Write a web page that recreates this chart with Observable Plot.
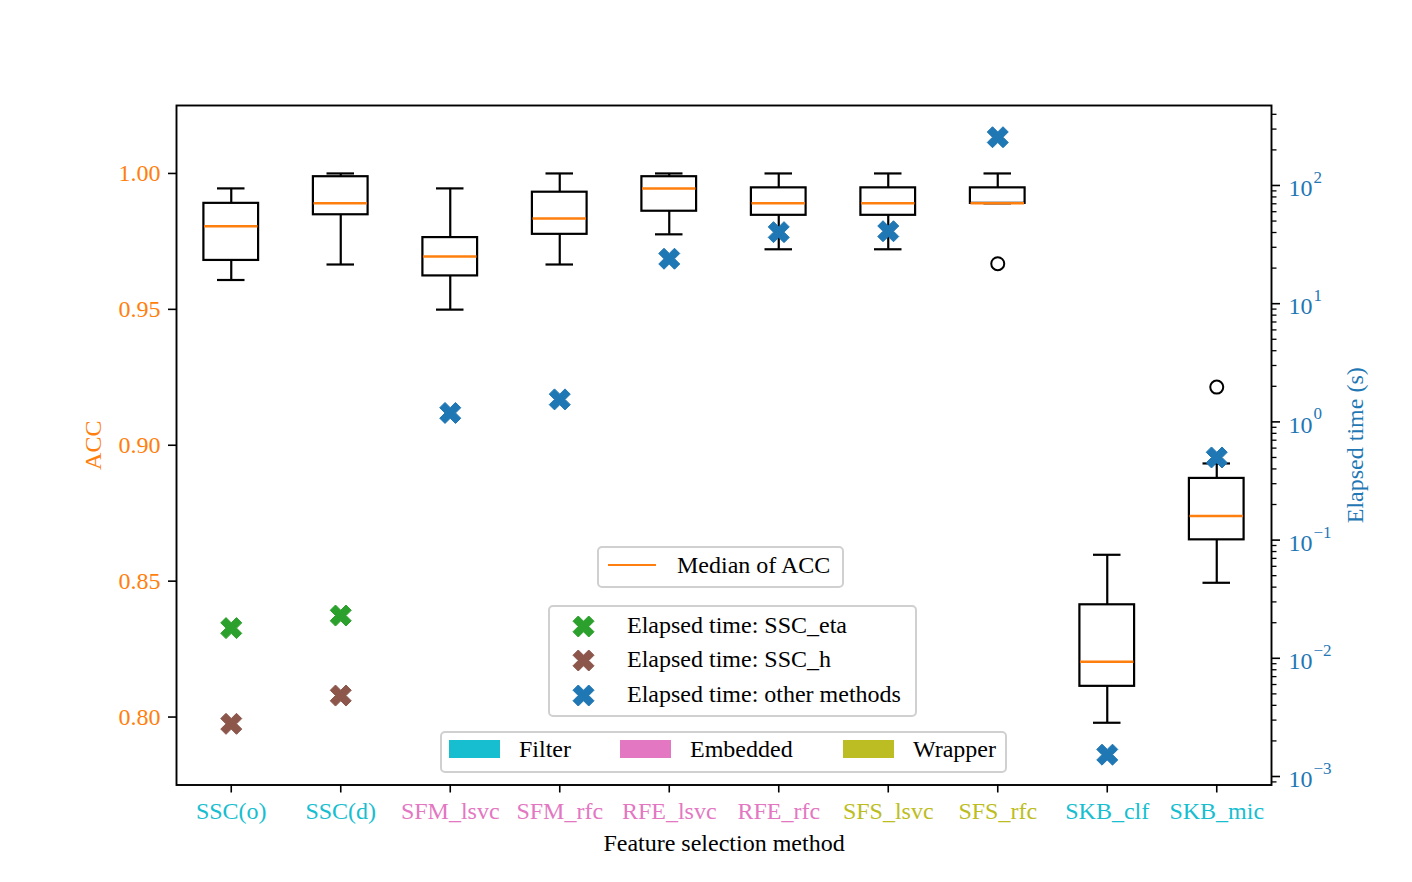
<!DOCTYPE html>
<html>
<head>
<meta charset="utf-8">
<script src="https://cdn.jsdelivr.net/npm/d3@7"></script>
<script src="https://cdn.jsdelivr.net/npm/@observablehq/plot@0.6"></script>
<style>
  html, body { margin: 0; padding: 0; background: #fff; }
  #wrap { position: relative; width: 1412px; height: 882px; font-family: "Liberation Serif", "DejaVu Serif", serif; }
  .leg { position: absolute; box-sizing: border-box; border: 2px solid #d0d0d0; border-radius: 5px; background: rgba(255,255,255,0.8); }
  .lt { position: absolute; font-size: 24px; line-height: 24px; color: #000; white-space: nowrap; transform: translateY(-50%); }
  .lsw { position: absolute; }
</style>
</head>
<body>
<div id="wrap"></div>
<script>
// ---------- data ----------
const methods = ["SSC(o)", "SSC(d)", "SFM_lsvc", "SFM_rfc", "RFE_lsvc", "RFE_rfc", "SFS_lsvc", "SFS_rfc", "SKB_clf", "SKB_mic"];
const groups  = ["Filter", "Filter", "Embedded", "Embedded", "Embedded", "Embedded", "Wrapper", "Wrapper", "Filter", "Filter"];

const accMin    = [0.9608, 0.9665, 0.9499, 0.9665, 0.9776, 0.9721, 0.9721, 0.9890, 0.7979, 0.8494];
const accQ1     = [0.9680, 0.9848, 0.9623, 0.9776, 0.9861, 0.9846, 0.9846, 0.9890, 0.8113, 0.8652];
const accMedian = [0.9806, 0.9890, 0.9694, 0.9834, 0.9945, 0.9890, 0.9890, 0.9890, 0.8203, 0.8740];
const accQ3     = [0.9890, 0.9988, 0.9764, 0.9931, 0.9988, 0.9947, 0.9947, 0.9947, 0.8413, 0.8878];
const accMax    = [0.9945, 1.0000, 0.9945, 1.0000, 1.0000, 1.0000, 1.0000, 1.0000, 0.8597, 0.8933];

const outlierMethods = ["SFS_rfc", "SKB_mic"];
const outlierAcc     = [0.9668, 0.9214];

const sscMethods = ["SSC(o)", "SSC(d)"];
const timeSscEta = [0.0180, 0.0230];
const timeSscH   = [0.00279, 0.00484];

const otherMethods = ["SFM_lsvc", "SFM_rfc", "RFE_lsvc", "RFE_rfc", "SFS_lsvc", "SFS_rfc", "SKB_clf", "SKB_mic"];
const timeOther    = [1.19, 1.55, 24.0, 40.3, 41.0, 256, 0.00153, 0.50];

const accTicks = [0.80, 0.85, 0.90, 0.95, 1.00];
const timeDecades = [-3, -2, -1, 0, 1, 2];
const groupNames = ["Filter", "Embedded", "Wrapper"];

// ---------- styling ----------
const groupColor = {Filter: "#17becf", Embedded: "#e377c2", Wrapper: "#bcbd22"};
const orange = "#ff7f0e", blue = "#1f77b4", green = "#2ca02c", brown = "#8c564b";
const accDomain = [0.775, 1.025];
const logDomain = [-3.0719, 2.6766];   // right (log10 seconds) axis limits

// map elapsed time onto the ACC scale (twin axis)
const logToAcc = d3.scaleLinear().domain(logDomain).range(accDomain);
const tY = t => logToAcc(Math.log10(t));

// matplotlib-like filled "X" marker
const xSymbol = {
  draw(ctx, size) {
    const s = 2 * Math.sqrt(size / Math.PI);
    const pts = [[-0.25,-0.5],[0,-0.25],[0.25,-0.5],[0.5,-0.25],[0.25,0],[0.5,0.25],
                 [0.25,0.5],[0,0.25],[-0.25,0.5],[-0.5,0.25],[-0.25,0],[-0.5,-0.25]];
    pts.forEach(([x, y], i) => i ? ctx.lineTo(x * s, y * s) : ctx.moveTo(x * s, y * s));
    ctx.closePath();
  }
};

const boxes = methods.map((m, i) => ({method: m, group: groups[i], min: accMin[i], q1: accQ1[i], med: accMedian[i], q3: accQ3[i], max: accMax[i]}));
const outliers = outlierMethods.map((m, i) => ({method: m, acc: outlierAcc[i]}));
const etaPts = sscMethods.map((m, i) => ({method: m, t: timeSscEta[i]}));
const hPts = sscMethods.map((m, i) => ({method: m, t: timeSscH[i]}));
const otherPts = otherMethods.map((m, i) => ({method: m, t: timeOther[i]}));

const minorTicks = [];
for (let k = -4; k <= 2; k++) for (let j = 2; j <= 9; j++) {
  const v = j * 10 ** k, l = Math.log10(v);
  if (l > logDomain[0] && l < logDomain[1]) minorTicks.push(tY(v));
}

const lw = 2.2;
const chart = Plot.plot({
  width: 1412, height: 882,
  marginTop: 105, marginBottom: 97.5, marginLeft: 176, marginRight: 141,
  style: {fontFamily: "Liberation Serif", fontSize: "24px", background: "white"},
  x: {domain: methods, padding: 0, round: false, axis: null},
  y: {domain: accDomain, axis: null},
  marks: [
    // left axis ticks and labels
    Plot.axisY({anchor: "left", ticks: accTicks, tickSize: 8, tickFormat: () => "", label: null, strokeWidth: 1.6}),
    Plot.text(accTicks, {y: d => d, text: d => d.toFixed(2), frameAnchor: "left", dx: -16, textAnchor: "end", lineAnchor: "middle", fill: orange}),
    Plot.text(["ACC"], {frameAnchor: "left", dx: -83, rotate: -90, textAnchor: "middle", lineAnchor: "middle", fill: orange}),
    // right (log) axis
    Plot.axisY({anchor: "right", ticks: timeDecades.map(d => tY(10 ** d)), tickSize: 8, tickFormat: () => "", label: null, strokeWidth: 1.6}),
    Plot.axisY({anchor: "right", ticks: minorTicks, tickSize: 4.5, tickFormat: () => "", label: null, strokeWidth: 1.3}),
    Plot.text(timeDecades, {y: d => tY(10 ** d), text: () => "10", frameAnchor: "right", dx: 17, dy: 3, textAnchor: "start", lineAnchor: "middle", fill: blue}),
    Plot.text(timeDecades, {y: d => tY(10 ** d), text: d => d < 0 ? "\u2212" + (-d) : String(d), frameAnchor: "right", dx: 42, dy: -8, textAnchor: "start", lineAnchor: "middle", fill: blue, fontSize: 17}),
    Plot.text(["Elapsed time (s)"], {frameAnchor: "right", dx: 84, rotate: -90, textAnchor: "middle", lineAnchor: "middle", fill: blue}),
    // x axis
    Plot.axisX({ticks: methods, tickSize: 8, tickFormat: () => "", label: null, strokeWidth: 1.6}),
    ...groupNames.map(g => Plot.text(methods.filter((m, i) => groups[i] === g), {x: d => d, frameAnchor: "bottom", dy: 26, textAnchor: "middle", lineAnchor: "middle", fill: groupColor[g]})),
    Plot.text(["Feature selection method"], {frameAnchor: "bottom", dy: 58, textAnchor: "middle", lineAnchor: "middle", fill: "black"}),
    // box plots of ACC
    Plot.ruleX(boxes, {x: "method", y1: "q3", y2: "max", stroke: "black", strokeWidth: lw}),
    Plot.ruleX(boxes, {x: "method", y1: "min", y2: "q1", stroke: "black", strokeWidth: lw}),
    Plot.tickY(boxes, {x: "method", y: "max", insetLeft: 41, insetRight: 41, stroke: "black", strokeWidth: lw}),
    Plot.tickY(boxes, {x: "method", y: "min", insetLeft: 41, insetRight: 41, stroke: "black", strokeWidth: lw}),
    Plot.barY(boxes, {x: "method", y1: "q1", y2: "q3", insetLeft: 27.4, insetRight: 27.4, fill: "white", stroke: "black", strokeWidth: lw}),
    Plot.tickY(boxes, {x: "method", y: "med", insetLeft: 28, insetRight: 28, stroke: orange, strokeWidth: 2.5}),
    Plot.dot(outliers, {x: "method", y: "acc", r: 6.5, stroke: "black", strokeWidth: 2, fill: "none"}),
    // elapsed time markers
    Plot.dot(etaPts, {x: "method", y: d => tY(d.t), symbol: xSymbol, r: 10.5, fill: green, stroke: green, strokeWidth: 1}),
    Plot.dot(hPts, {x: "method", y: d => tY(d.t), symbol: xSymbol, r: 10.5, fill: brown, stroke: brown, strokeWidth: 1}),
    Plot.dot(otherPts, {x: "method", y: d => tY(d.t), symbol: xSymbol, r: 10.5, fill: blue, stroke: blue, strokeWidth: 1}),
    Plot.frame({stroke: "black", strokeWidth: 1.9})
  ]
});

const wrap = document.getElementById("wrap");
chart.style.position = "absolute";
chart.style.left = "0px";
chart.style.top = "0px";
wrap.appendChild(chart);

// ---------- legends (overlaid) ----------
function el(tag, cls, css, html) {
  const e = document.createElement(tag);
  if (cls) e.className = cls;
  Object.assign(e.style, css);
  if (html != null) e.innerHTML = html;
  wrap.appendChild(e);
  return e;
}
function xMarkerSvg(color) {
  const s = 21, h = s / 2;
  const pts = [[-0.25,-0.5],[0,-0.25],[0.25,-0.5],[0.5,-0.25],[0.25,0],[0.5,0.25],
               [0.25,0.5],[0,0.25],[-0.25,0.5],[-0.5,0.25],[-0.25,0],[-0.5,-0.25]]
    .map(([x, y]) => `${(x * s + h + 1).toFixed(2)},${(y * s + h + 1).toFixed(2)}`).join(" ");
  return `<svg width="${s + 2}" height="${s + 2}"><polygon points="${pts}" fill="${color}" stroke="${color}" stroke-width="1"/></svg>`;
}

// Legend 1: median
el("div", "leg", {left: "597px", top: "546px", width: "247px", height: "42px"});
el("div", "lsw", {left: "608px", top: "564px", width: "48px", height: "2.2px", background: orange});
el("div", "lt", {left: "677px", top: "565px"}, "Median of ACC");

// Legend 2: elapsed time
el("div", "leg", {left: "548px", top: "605px", width: "369px", height: "112px"});
const timeLegend = [["Elapsed time: SSC_eta", green, 626], ["Elapsed time: SSC_h", brown, 660], ["Elapsed time: other methods", blue, 695]];
timeLegend.forEach(([label, c, y]) => {
  el("div", "lsw", {left: (583 - 11.5) + "px", top: (y - 11.5) + "px", width: "23px", height: "23px"}, xMarkerSvg(c));
  el("div", "lt", {left: "627px", top: (y - 1) + "px"}, label);
});

// Legend 3: groups
el("div", "leg", {left: "440px", top: "731px", width: "567px", height: "42px"});
const patchX = [449, 620, 843];
const textX = [519, 690, 913];
groupNames.forEach((g, i) => {
  el("div", "lsw", {left: patchX[i] + "px", top: "740px", width: "51px", height: "18px", background: groupColor[g]});
  el("div", "lt", {left: textX[i] + "px", top: "749px"}, g);
});
</script>
</body>
</html>
